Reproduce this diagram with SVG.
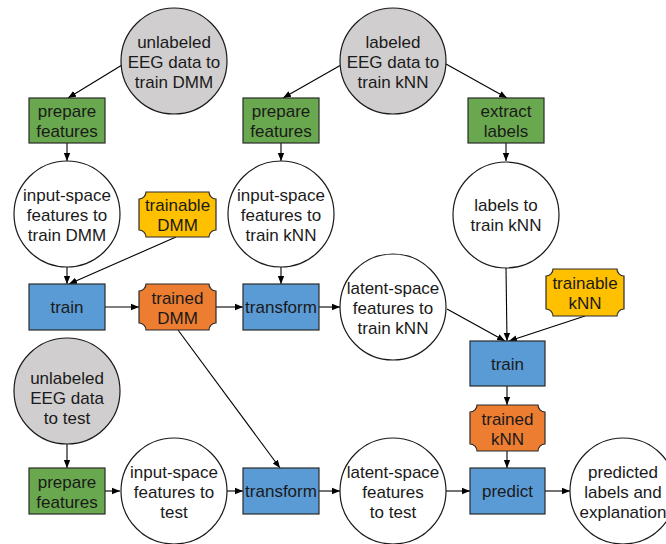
<svg xmlns="http://www.w3.org/2000/svg" width="666" height="544" viewBox="0 0 666 544">
<style>
text{font-family:"Liberation Sans",Arial,sans-serif;font-size:17px;fill:#1a1a1a;text-anchor:middle}
.c{fill:#fff;stroke:#1a1a1a;stroke-width:1.2}
.g{fill:#d0cece;stroke:#1a1a1a;stroke-width:1.2}
.gr{fill:#6aa84f;stroke:#2b2b2b;stroke-width:1.2}
.bl{fill:#5b9bd5;stroke:#2b2b2b;stroke-width:1.2}
.or{fill:#ed7d31;stroke:#2b2b2b;stroke-width:1.2}
.ye{fill:#ffc000;stroke:#2b2b2b;stroke-width:1.2}
.e{stroke:#000;stroke-width:1.1;fill:none;marker-end:url(#a)}
</style>
<defs>
<marker id="a" viewBox="0 0 10 10" refX="10" refY="5" markerWidth="8" markerHeight="8" markerUnits="userSpaceOnUse" orient="auto">
<path d="M0,1 L10,5 L0,9 Z" fill="#000"/>
</marker>
</defs>
<g id="connectors">
<line class="e" x1="122" y1="65" x2="68" y2="98"/>
<line class="e" x1="341" y1="65" x2="283" y2="98"/>
<line class="e" x1="446" y1="64" x2="507" y2="98"/>
<line class="e" x1="67" y1="143" x2="67" y2="161"/>
<line class="e" x1="281" y1="143" x2="281" y2="161"/>
<line class="e" x1="506" y1="143" x2="506" y2="161"/>
<line class="e" x1="67" y1="267" x2="67" y2="284"/>
<line class="e" x1="176" y1="237" x2="69" y2="284"/>
<line class="e" x1="281" y1="267" x2="281" y2="284"/>
<line class="e" x1="105" y1="307" x2="139" y2="307"/>
<line class="e" x1="216" y1="307" x2="243" y2="307"/>
<line class="e" x1="319" y1="307" x2="340" y2="307"/>
<line class="e" x1="178" y1="330" x2="280" y2="468"/>
<line class="e" x1="506" y1="268" x2="507" y2="341"/>
<line class="e" x1="447" y1="309" x2="505" y2="341"/>
<line class="e" x1="585" y1="316" x2="509" y2="341"/>
<line class="e" x1="507" y1="386" x2="507" y2="405"/>
<line class="e" x1="507" y1="451" x2="507" y2="468"/>
<line class="e" x1="67" y1="444" x2="67" y2="468"/>
<line class="e" x1="105" y1="491" x2="120" y2="491"/>
<line class="e" x1="227" y1="491" x2="243" y2="491"/>
<line class="e" x1="319" y1="491" x2="340" y2="491"/>
<line class="e" x1="446" y1="491" x2="470" y2="491"/>
<line class="e" x1="545" y1="491" x2="570" y2="491"/>
</g>
<g id="unlabeled-train"><circle class="g" cx="174" cy="61" r="53"/><text x="174" y="48">unlabeled</text><text x="174" y="68">EEG data to</text><text x="174" y="88">train DMM</text></g>
<g id="labeled-train"><circle class="g" cx="393" cy="61" r="53"/><text x="393" y="48">labeled</text><text x="393" y="68">EEG data to</text><text x="393" y="88">train kNN</text></g>
<g id="prepare1"><rect class="gr" x="29" y="98" width="76" height="45"/><text x="67" y="117">prepare</text><text x="67" y="137">features</text></g>
<g id="prepare2"><rect class="gr" x="243" y="98" width="76" height="45"/><text x="281" y="117">prepare</text><text x="281" y="137">features</text></g>
<g id="extract"><rect class="gr" x="468" y="98" width="76" height="45"/><text x="506" y="117">extract</text><text x="506" y="137">labels</text></g>
<g id="input-dmm"><circle class="c" cx="67" cy="214" r="53"/><text x="67" y="201">input-space</text><text x="67" y="221">features to</text><text x="67" y="241">train DMM</text></g>
<g id="input-knn"><circle class="c" cx="281" cy="214" r="53"/><text x="281" y="201">input-space</text><text x="281" y="221">features to</text><text x="281" y="241">train kNN</text></g>
<g id="labels-knn"><circle class="c" cx="506" cy="215" r="53"/><text x="506" y="211">labels to</text><text x="506" y="231">train kNN</text></g>
<g id="trainable-dmm"><path class="ye" d="M146,192 H209 A7 7 0 0 0 216,199 V230 A7 7 0 0 0 209,237 H146 A7 7 0 0 0 139,230 V199 A7 7 0 0 0 146,192 Z"/><text x="177.5" y="211">trainable</text><text x="177.5" y="231">DMM</text></g>
<g id="train1"><rect class="bl" x="29" y="284" width="76" height="46"/><text x="67" y="313">train</text></g>
<g id="trained-dmm"><path class="or" d="M146,284 H209 A7 7 0 0 0 216,291 V323 A7 7 0 0 0 209,330 H146 A7 7 0 0 0 139,323 V291 A7 7 0 0 0 146,284 Z"/><text x="177.5" y="304">trained</text><text x="177.5" y="324">DMM</text></g>
<g id="transform1"><rect class="bl" x="243" y="284" width="76" height="46"/><text x="281" y="313">transform</text></g>
<g id="latent-knn"><circle class="c" cx="393" cy="307" r="53"/><text x="393" y="294">latent-space</text><text x="393" y="314">features to</text><text x="393" y="334">train kNN</text></g>
<g id="trainable-knn"><path class="ye" d="M553,269 H617 A7 7 0 0 0 624,276 V309 A7 7 0 0 0 617,316 H553 A7 7 0 0 0 546,309 V276 A7 7 0 0 0 553,269 Z"/><text x="585" y="289">trainable</text><text x="585" y="309">kNN</text></g>
<g id="train2"><rect class="bl" x="470" y="341" width="75" height="45"/><text x="507.5" y="370">train</text></g>
<g id="trained-knn"><path class="or" d="M477,405 H538 A7 7 0 0 0 545,412 V444 A7 7 0 0 0 538,451 H477 A7 7 0 0 0 470,444 V412 A7 7 0 0 0 477,405 Z"/><text x="507.5" y="425">trained</text><text x="507.5" y="445">kNN</text></g>
<g id="unlabeled-test"><circle class="g" cx="67" cy="391" r="53"/><text x="67" y="384">unlabeled</text><text x="67" y="404">EEG data</text><text x="67" y="424">to test</text></g>
<g id="prepare3"><rect class="gr" x="29" y="468" width="76" height="46"/><text x="67" y="488">prepare</text><text x="67" y="508">features</text></g>
<g id="input-test"><circle class="c" cx="174" cy="491" r="53"/><text x="174" y="478">input-space</text><text x="174" y="498">features to</text><text x="174" y="518">test</text></g>
<g id="transform2"><rect class="bl" x="243" y="468" width="76" height="46"/><text x="281" y="497">transform</text></g>
<g id="latent-test"><circle class="c" cx="393" cy="491" r="53"/><text x="393" y="478">latent-space</text><text x="393" y="498">features</text><text x="393" y="518">to test</text></g>
<g id="predict"><rect class="bl" x="470" y="468" width="75" height="46"/><text x="507.5" y="497">predict</text></g>
<g id="predicted"><circle class="c" cx="623" cy="491" r="53"/><text x="623" y="478">predicted</text><text x="623" y="498">labels and</text><text x="623" y="518">explanation</text></g>
</svg>
